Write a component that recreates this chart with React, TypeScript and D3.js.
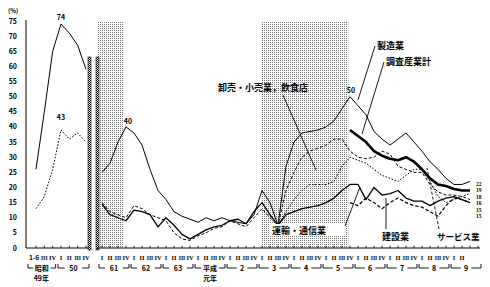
import React from "react";
import * as d3 from "d3";

// ---------- data ----------
const Y_TICKS = [0, 5, 10, 15, 20, 25, 30, 35, 40, 45, 50, 55, 60, 65, 70, 75];

// left panel: 昭和49年 1-6, III, IV ; 50年 I..IV
const LEFT_Q = ["1-6", "III", "IV", "I", "II", "III", "IV"];
const LEFT_MFG = [26, 45, 65, 74, 71, 67, 59];
const LEFT_TOTAL = [13, 17, 26, 39, 36, 38, 35];

// main panel: 61 I ... 9 III (47 quarters)
const YEARS = ["61", "62", "63", "平成", "2", "3", "4", "5", "6", "7", "8", "9"];
const QUARTERS = ["I", "II", "III", "IV"];

const MFG = [25, 28, 35, 40, 38, 34, 26, 19, 16, 12, 10.5, 9.5, 8.5, 10, 9, 10, 9, 8.5, 8, 11, 19, 15, 7.5, 27, 35, 38, 38.5, 39, 40, 42, 46, 50, 47, 44, 38.5, 36, 34, 36, 38, 35, 32, 28.5, 26, 23, 21, 21, 22];
const TOTAL_START = 31;
const TOTAL = [39, 37, 35, 32, 30.5, 29.5, 29, 30, 28.5, 26, 23, 21, 20.5, 19.5, 19, 19];
const TRADE = [15, 12, 11, 10, 14, 13, 11, 10, 9, 5, 3, 2.5, 4, 5, 6.5, 7, 9, 8, 7, 10, 13, 10, 7.5, 19, 25, 30, 32, 33, 34, 36, 36, 32, 30, 29.5, 30, 32, 31, 27, 26, 25, 25, 21, 18.5, 17.5, 17.5, 17, 16];
const CONSTR = [14.5, 11, 10, 9, 12.5, 12, 11, 7, 10, 7.5, 4.5, 3, 4.5, 6, 7, 7.5, 9, 9.5, 8, 12, 15, 11, 7.5, 11, 12, 13, 13.5, 14, 15, 16.5, 19, 21, 21, 16, 20, 17.5, 18, 19, 16.5, 15.5, 15.5, 14, 15.5, 16.5, 17, 16, 15];
const SERVICE_START = 22;
const SERVICE = [7.5, 12, 16, 19, 21, 21, 21, 22, 27, 30, 29, 28, 26, 24, 23, 22, 24, 26, 26, 22, 17, 15, 16, 17, 18];
const TRANSPORT_START = 31;
const TRANSPORT = [15, 14, 16.5, 15, 13, 15, 16.5, 15, 14, 13.5, 12, 10.5, 14, 16.5, 16, 15];

const END_LABELS = ["22", "19", "18", "16", "15", "15"];

// ---------- layout ----------
const W = 490, H = 287;
const AXIS_Y = 248;
const FONT = "'Noto Sans CJK JP', 'DejaVu Sans', sans-serif";
const NUMFONT = "'Liberation Serif', 'DejaVu Serif', serif";

const y = d3.scaleLinear().domain([0, 75]).range([AXIS_Y, 21]);
const xL = d3.scaleLinear().domain([0, 6]).range([36, 86]);
const xM = d3.scaleLinear().domain([0, 46]).range([102, 470]);

type Pt = [number, number] | null;
const lineGen = d3
  .line<Pt>()
  .defined((d) => d != null)
  .x((d) => (d as [number, number])[0])
  .y((d) => (d as [number, number])[1]);

function mainPts(vals: number[], start = 0): Pt[] {
  return vals.map((v, i) => [xM(start + i), y(v)] as [number, number]);
}
function leftPts(vals: number[]): Pt[] {
  return vals.map((v, i) => [xL(i), y(v)] as [number, number]);
}

function Bracket({ x1, x2, yy, label }: { x1: number; x2: number; yy: number; label: string }) {
  const xc = (x1 + x2) / 2;
  const gap = label.length * 3.4 + 2;
  return (
    <g>
      <path d={`M${x1},${yy - 4}V${yy}H${xc - gap}M${xc + gap},${yy}H${x2}V${yy - 4}`} fill="none" stroke="#000" strokeWidth={0.9} />
      <text x={xc} y={yy + 2.5} textAnchor="middle" fontSize={7} fontWeight="bold" fontFamily={FONT}>
        {label}
      </text>
    </g>
  );
}

function Roman({ x, t }: { x: number; t: string }) {
  return (
    <text x={x} y={260} textAnchor="middle" fontSize={6.5} fontWeight="bold" fontFamily={NUMFONT}
      textLength={t.length > 2 ? 6.5 : undefined} lengthAdjust="spacingAndGlyphs">
      {t}
    </text>
  );
}

export default function App() {
  const mainLabels: { i: number; t: string }[] = [];
  YEARS.forEach((_, yi) => {
    const nq = yi === YEARS.length - 1 ? 2 : 4;
    for (let q = 0; q < nq; q++) mainLabels.push({ i: yi * 4 + q, t: QUARTERS[q] });
  });

  const series = [
    { pts: mainPts(MFG), w: 1, dash: undefined },
    { pts: mainPts(TOTAL, TOTAL_START), w: 2.6, dash: undefined },
    { pts: mainPts(TRADE), w: 1, dash: "3,2" },
    { pts: mainPts(CONSTR), w: 1.3, dash: undefined },
    { pts: mainPts(SERVICE, SERVICE_START), w: 1, dash: "1.6,1.6" },
    { pts: mainPts(TRANSPORT, TRANSPORT_START), w: 1.2, dash: "3.5,2" },
  ];

  const band1 = [97, xM(2.75)];
  const band2 = [xM(19.9), xM(30.8)];

  return (
    <svg width={W} height={H} style={{ display: "block", position: "absolute", left: 0, top: 0 }}>
      <defs>
        <pattern id="dots" width="2" height="2" patternUnits="userSpaceOnUse">
          <rect width="1" height="1" fill="#000" />
        </pattern>
        <pattern id="checker" width="2" height="2" patternUnits="userSpaceOnUse">
          <rect width="1" height="1" fill="#000" />
          <rect x="1" y="1" width="1" height="1" fill="#000" />
        </pattern>
      </defs>
      <rect width={W} height={H} fill="#fff" />

      {/* shaded bands */}
      <rect x={band1[0]} y={21} width={band1[1] - band1[0]} height={AXIS_Y - 21} fill="url(#dots)" opacity={0.55} />
      <rect x={band2[0]} y={21} width={band2[1] - band2[0]} height={AXIS_Y - 21} fill="url(#dots)" opacity={0.55} />

      {/* y axis labels */}
      <text x={8} y={13} fontSize={6} fontWeight="bold" fontFamily={FONT}>(%)</text>
      {Y_TICKS.map((t) => (
        <text key={t} x={17} y={y(t) + 2.5} textAnchor="end" fontSize={7} fontWeight="bold" fontFamily={FONT}>
          {t}
        </text>
      ))}
      <line x1={26} x2={26} y1={20} y2={AXIS_Y} stroke="#000" strokeWidth={1} />
      <line x1={26} x2={89} y1={AXIS_Y} y2={AXIS_Y} stroke="#000" strokeWidth={1} />
      {LEFT_Q.map((q, i) => (
        <g key={i}>
          <line x1={xL(i)} x2={xL(i)} y1={AXIS_Y} y2={AXIS_Y - 2.5} stroke="#000" strokeWidth={0.8} />
          {i === 0 ? (
            <text x={xL(i) - 2} y={260} textAnchor="middle" fontSize={6.5} fontWeight="bold" fontFamily={FONT}>{q}</text>
          ) : (
            <Roman x={xL(i)} t={q} />
          )}
        </g>
      ))}
      <Bracket x1={xL(0) - 8} x2={xL(2) + 3} yy={268} label="昭和" />
      <text x={xL(1) - 3} y={281} textAnchor="middle" fontSize={7} fontWeight="bold" fontFamily={FONT}>49年</text>
      <Bracket x1={xL(3) - 3} x2={xL(6) + 3} yy={268} label="50" />

      {/* separator bars */}
      <rect x={88} y={57} width={3} height={AXIS_Y + 2 - 57} fill="url(#checker)" stroke="#000" strokeWidth={0.6} />
      <rect x={96} y={57} width={3} height={AXIS_Y + 2 - 57} fill="url(#checker)" stroke="#000" strokeWidth={0.6} />

      {/* left lines */}
      <path d={lineGen(leftPts(LEFT_MFG)) || ""} fill="none" stroke="#000" strokeWidth={1} />
      <path d={lineGen(leftPts(LEFT_TOTAL)) || ""} fill="none" stroke="#000" strokeWidth={1} strokeDasharray="1.6,1.6" />
      <text x={xL(3)} y={y(74) - 4} textAnchor="middle" fontSize={7} fontWeight="bold" fontFamily={FONT}>74</text>
      <text x={xL(3)} y={y(39) - 10} textAnchor="middle" fontSize={7} fontWeight="bold" fontFamily={FONT}>43</text>

      {/* main axis */}
      <line x1={97} x2={480} y1={AXIS_Y} y2={AXIS_Y} stroke="#000" strokeWidth={1} />
      {d3.range(0, 48).map((i) => (
        <line key={i} x1={xM(i)} x2={xM(i)} y1={AXIS_Y} y2={AXIS_Y - 2.5} stroke="#000" strokeWidth={0.8} />
      ))}
      {mainLabels.map((d) => (
        <Roman key={d.i} x={xM(d.i)} t={d.t} />
      ))}
      {YEARS.map((yr, yi) => (
        <Bracket key={yr} x1={xM(yi * 4) - 3} x2={xM(yi * 4 + 3) + 3} yy={268} label={yr} />
      ))}
      <text x={(xM(12) + xM(15)) / 2} y={281} textAnchor="middle" fontSize={7} fontWeight="bold" fontFamily={FONT}>元年</text>

      {/* main lines */}
      {series.map((s, k) => (
        <path key={k} d={lineGen(s.pts) || ""} fill="none" stroke="#000" strokeWidth={s.w} strokeDasharray={s.dash} strokeLinejoin="round" />
      ))}

      {/* value labels */}
      <text x={xM(3) + 2} y={y(40) - 3} textAnchor="middle" fontSize={7} fontWeight="bold" fontFamily={FONT}>40</text>
      <text x={xM(31) + 1} y={y(50) - 4} textAnchor="middle" fontSize={7} fontWeight="bold" fontFamily={FONT}>50</text>
      {END_LABELS.map((t, k) => (
        <text key={k} x={476} y={186 + k * 6.4} fontSize={5.5} fontWeight="bold" fontFamily={NUMFONT}>{t}</text>
      ))}

      {/* series labels with leaders */}
      <text x={218} y={91} fontSize={9} fontWeight="bold" fontFamily={FONT}>卸売・小売業，飲食店</text>
      <line x1={283} y1={95} x2={316} y2={170} stroke="#000" strokeWidth={0.9} />

      <text x={377} y={49} fontSize={9} fontWeight="bold" fontFamily={FONT}>製造業</text>
      <line x1={375} y1={46} x2={358} y2={100} stroke="#000" strokeWidth={0.9} />
      <text x={386} y={65} fontSize={9} fontWeight="bold" fontFamily={FONT}>調査産業計</text>
      <line x1={384} y1={62} x2={362} y2={134} stroke="#000" strokeWidth={0.9} />

      <rect x={270} y={224} width={76} height={12} fill="#fff" />
      <text x={272} y={234} fontSize={9} fontWeight="bold" fontFamily={FONT}>運輸・通信業</text>
      <line x1={345} y1={226} x2={360} y2={187} stroke="#000" strokeWidth={0.9} />

      <text x={382} y={240} fontSize={9} fontWeight="bold" fontFamily={FONT}>建設業</text>
      <line x1={386} y1={229} x2={386} y2={198} stroke="#000" strokeWidth={0.9} />
      <text x={437} y={240} fontSize={8.5} fontWeight="bold" fontFamily={FONT}>サービス業</text>
      <line x1={439} y1={229} x2={427} y2={168} stroke="#000" strokeWidth={0.9} strokeDasharray="3,2" />
    </svg>
  );
}
